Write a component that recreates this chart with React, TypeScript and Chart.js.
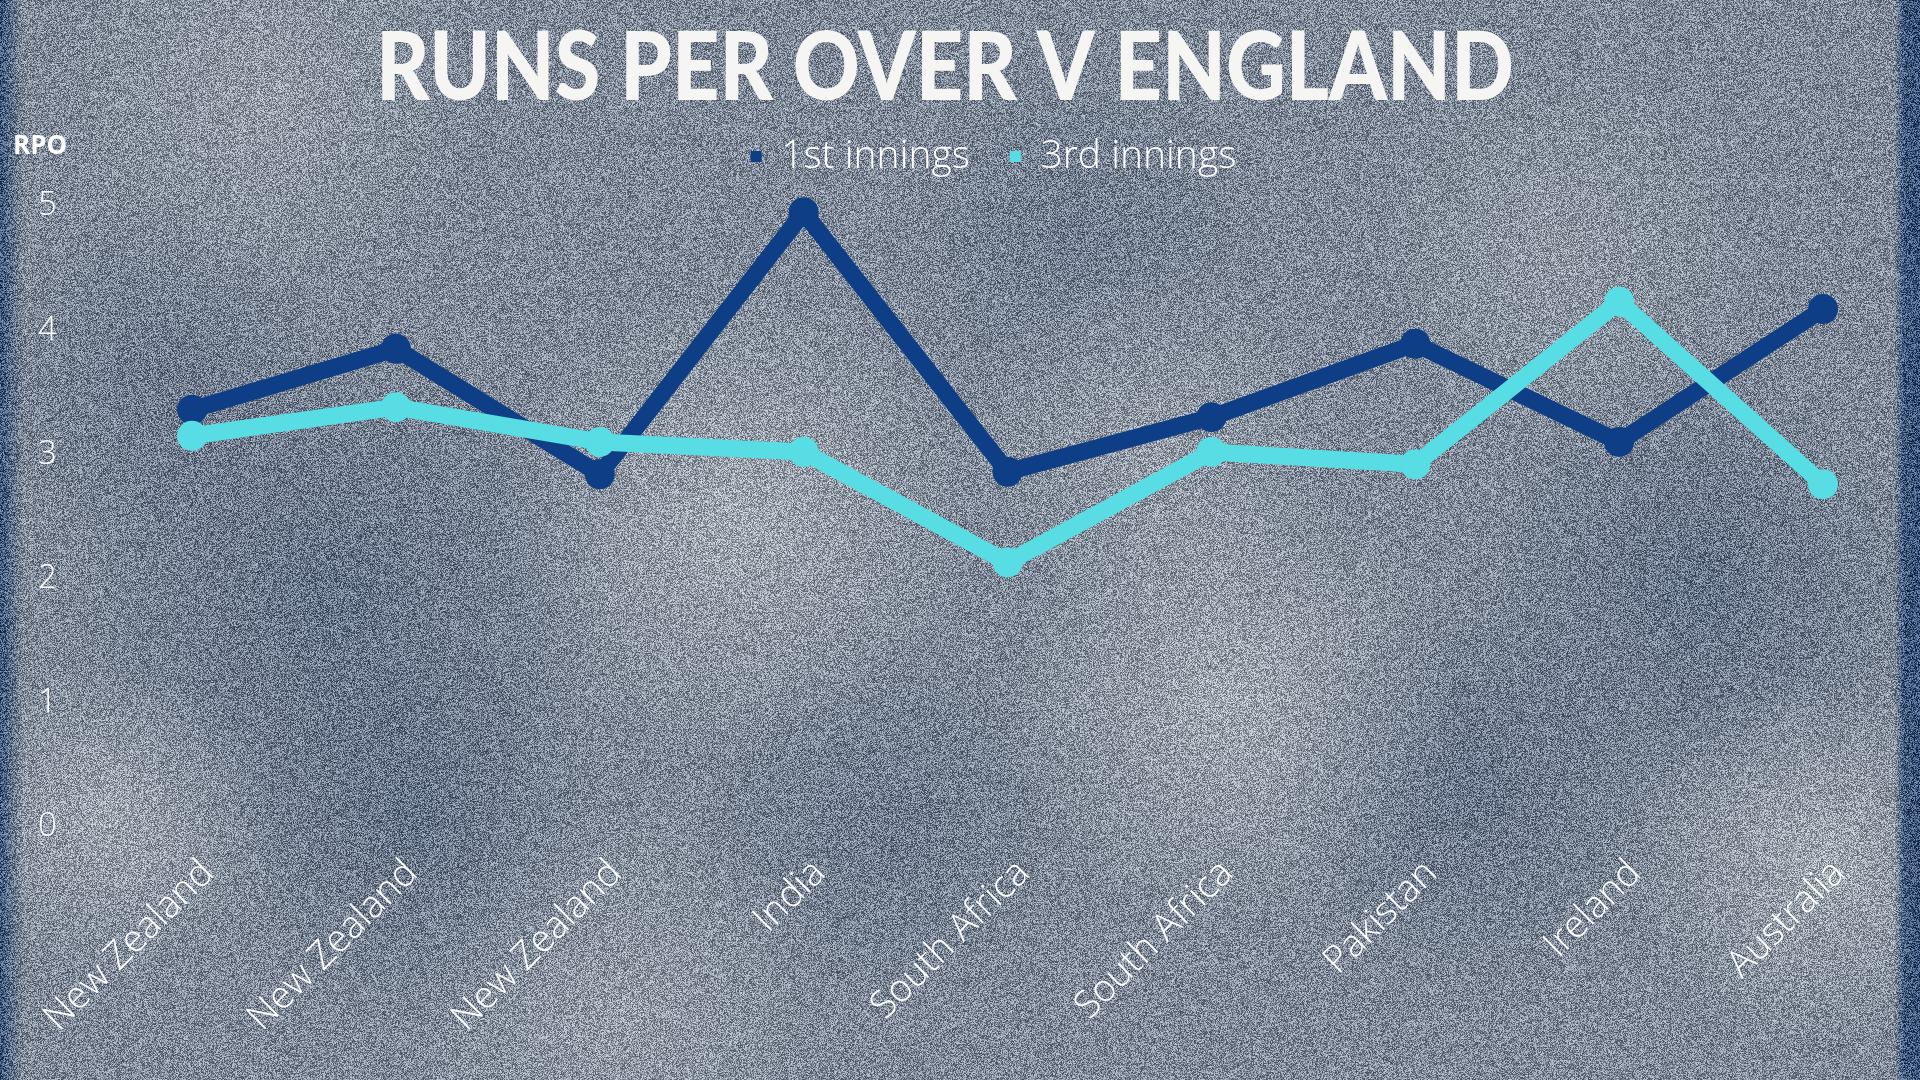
import React, { useEffect, useRef } from "react";
import { Chart, registerables } from "chart.js";

Chart.register(...registerables);

// ---------- data ----------
const categories = [
  "New Zealand",
  "New Zealand",
  "New Zealand",
  "India",
  "South Africa",
  "South Africa",
  "Pakistan",
  "Ireland",
  "Australia",
];
const firstInnings = [3.36, 3.85, 2.84, 4.95, 2.86, 3.3, 3.89, 3.1, 4.17];
const thirdInnings = [3.15, 3.38, 3.1, 3.02, 2.13, 3.02, 2.92, 4.23, 2.76];
const seriesNames = ["1st innings", "3rd innings"];
const yMin = 0;
const yMax = 5;
const yStep = 1;
const titleText = "RUNS PER OVER V ENGLAND";
const yAxisLabel = "RPO";

// ---------- styles ----------
const DARK = "#0e3f86";
const CYAN = "#57dde3";
const FONT = "'Open Sans', 'Noto Sans', sans-serif";

const backgroundPlugin = {
  id: "bgTexture",
  beforeDraw(chart: any) {
    const { ctx, width, height } = chart;
    ctx.save();
    ctx.fillStyle = "rgb(128,138,152)";
    ctx.fillRect(0, 0, width, height);
    const blobs: [number, number, number, string, number][] = [
      [330, 600, 280, "62,82,112", 0.4],
      [420, 830, 200, "62,82,112", 0.35],
      [1700, 590, 230, "62,82,112", 0.4],
      [1470, 790, 200, "62,82,112", 0.35],
      [1080, 240, 200, "72,90,118", 0.25],
      [880, 820, 200, "72,90,118", 0.3],
      [150, 380, 180, "72,90,118", 0.3],
      [740, 520, 240, "200,204,208", 0.45],
      [1230, 700, 230, "200,204,208", 0.45],
      [1820, 860, 190, "200,204,208", 0.45],
      [110, 820, 160, "200,204,208", 0.4],
      [260, 90, 220, "185,190,196", 0.35],
      [1150, 440, 190, "185,190,196", 0.35],
      [620, 1010, 220, "185,190,196", 0.35],
      [1560, 250, 200, "185,190,196", 0.3],
    ];
    for (const [x, y, r, c, a] of blobs) {
      const g = ctx.createRadialGradient(x, y, 0, x, y, r);
      g.addColorStop(0, `rgba(${c},${a})`);
      g.addColorStop(1, `rgba(${c},0)`);
      ctx.fillStyle = g;
      ctx.fillRect(x - r, y - r, 2 * r, 2 * r);
    }
    const lg = ctx.createLinearGradient(0, 0, 24, 0);
    lg.addColorStop(0, "rgba(55,80,118,0.9)");
    lg.addColorStop(1, "rgba(55,80,118,0)");
    ctx.fillStyle = lg;
    ctx.fillRect(0, 0, 24, height);
    const rg = ctx.createLinearGradient(width - 26, 0, width, 0);
    rg.addColorStop(0, "rgba(55,80,118,0)");
    rg.addColorStop(0.4, "rgba(55,80,118,0.85)");
    rg.addColorStop(1, "rgba(55,80,118,0.95)");
    ctx.fillStyle = rg;
    ctx.fillRect(width - 26, 0, 26, height);
    // deterministic film grain
    const img = ctx.getImageData(0, 0, width, height);
    const d = img.data;
    const n = width * height;
    for (let p = 0, i = 0; p < n; p++, i += 4) {
      let h = Math.imul(p, 2654435761) >>> 0;
      h ^= h >>> 15;
      h = Math.imul(h, 2246822519) >>> 0;
      h ^= h >>> 13;
      const v = ((h & 255) - 128) * 0.5;
      d[i] += v;
      d[i + 1] += v;
      d[i + 2] += v;
    }
    ctx.putImageData(img, 0, 0);
    ctx.restore();
  },
};

const textPlugin = {
  id: "titleText",
  afterDraw(chart: any) {
    const { ctx } = chart;
    ctx.save();
    ctx.font = "900 95px Lato, 'DejaVu Sans', sans-serif";
    const w = ctx.measureText(titleText).width;
    ctx.translate(945, 100);
    ctx.scale(1138 / w, 1);
    ctx.fillStyle = "#f5f5f3";
    ctx.textAlign = "center";
    ctx.textBaseline = "alphabetic";
    ctx.fillText(titleText, 0, 0);
    ctx.restore();

    ctx.save();
    ctx.font = `bold 26px ${FONT}`;
    ctx.fillStyle = "#ffffff";
    ctx.textAlign = "left";
    ctx.textBaseline = "alphabetic";
    ctx.fillText(yAxisLabel, 13, 154);
    ctx.restore();
  },
};

const legendPlacePlugin = {
  id: "legendPlace",
  afterLayout(chart: any) {
    const L = chart.legend;
    const ca = chart.chartArea;
    if (!L || !ca) return;
    L.left = ca.left - 14;
    L.right = ca.right - 14;
    L.top -= 20;
    L.bottom -= 20;
  },
};

export default function App() {
  const ref = useRef<HTMLCanvasElement | null>(null);

  useEffect(() => {
    if (!ref.current) return;
    const common = {
      borderWidth: 17,
      pointRadius: 15,
      pointBorderWidth: 0,
      tension: 0,
      borderJoinStyle: "round",
      borderCapStyle: "round",
      clip: false,
    };
    const chart = new Chart(ref.current, {
      type: "line",
      data: {
        labels: categories,
        datasets: [
          {
            ...common,
            label: seriesNames[0],
            data: firstInnings,
            borderColor: DARK,
            backgroundColor: DARK,
            pointBackgroundColor: DARK,
            pointBorderColor: DARK,
            order: 2,
          } as any,
          {
            ...common,
            label: seriesNames[1],
            data: thirdInnings,
            borderColor: CYAN,
            backgroundColor: CYAN,
            pointBackgroundColor: CYAN,
            pointBorderColor: CYAN,
            order: 1,
          } as any,
        ],
      },
      options: {
        animation: false,
        responsive: false,
        devicePixelRatio: 1,
        layout: { padding: { top: 117, left: 38, right: 97, bottom: 0 } },
        plugins: {
          title: { display: false },
          tooltip: { enabled: false },
          legend: {
            display: true,
            position: "top",
            labels: {
              color: "#ffffff",
              font: { size: 39, weight: "300", family: FONT },
              usePointStyle: true,
              pointStyle: "rect",
              boxWidth: 11,
              boxHeight: 11,
              padding: 40,
              sort: (a: any, b: any) => a.datasetIndex - b.datasetIndex,
              generateLabels: (c: any) =>
                (Chart.defaults.plugins.legend.labels.generateLabels as any)(c).map((l: any) => ({
                  ...l,
                  lineWidth: 0,
                  pointStyle: "rect",
                  fontColor: "#ffffff",
                })),
            },
          },
        },
        scales: {
          x: {
            type: "category",
            offset: false,
            grid: { display: false, drawTicks: false },
            border: { display: false },
            ticks: {
              color: "#ffffff",
              font: { size: 38, weight: "300", family: FONT },
              minRotation: 45,
              maxRotation: 45,
              padding: 24,
              labelOffset: 16,
              autoSkip: false,
            },
            afterFit: (s: any) => {
              s.height = 253;
            },
          },
          y: {
            min: yMin,
            max: yMax,
            grid: { display: false, drawTicks: false },
            border: { display: false },
            ticks: {
              color: "#ffffff",
              stepSize: yStep,
              font: { size: 33, weight: "300", family: FONT },
              crossAlign: "far",
              padding: 0,
            },
            afterFit: (s: any) => {
              s.width = 154;
            },
          },
        },
      } as any,
      plugins: [backgroundPlugin, textPlugin, legendPlacePlugin],
    });
    return () => chart.destroy();
  }, []);

  return (
    <div style={{ position: "fixed", left: 0, top: 0, width: 1920, height: 1080 }}>
      <canvas ref={ref} width={1920} height={1080} style={{ display: "block" }} />
    </div>
  );
}
